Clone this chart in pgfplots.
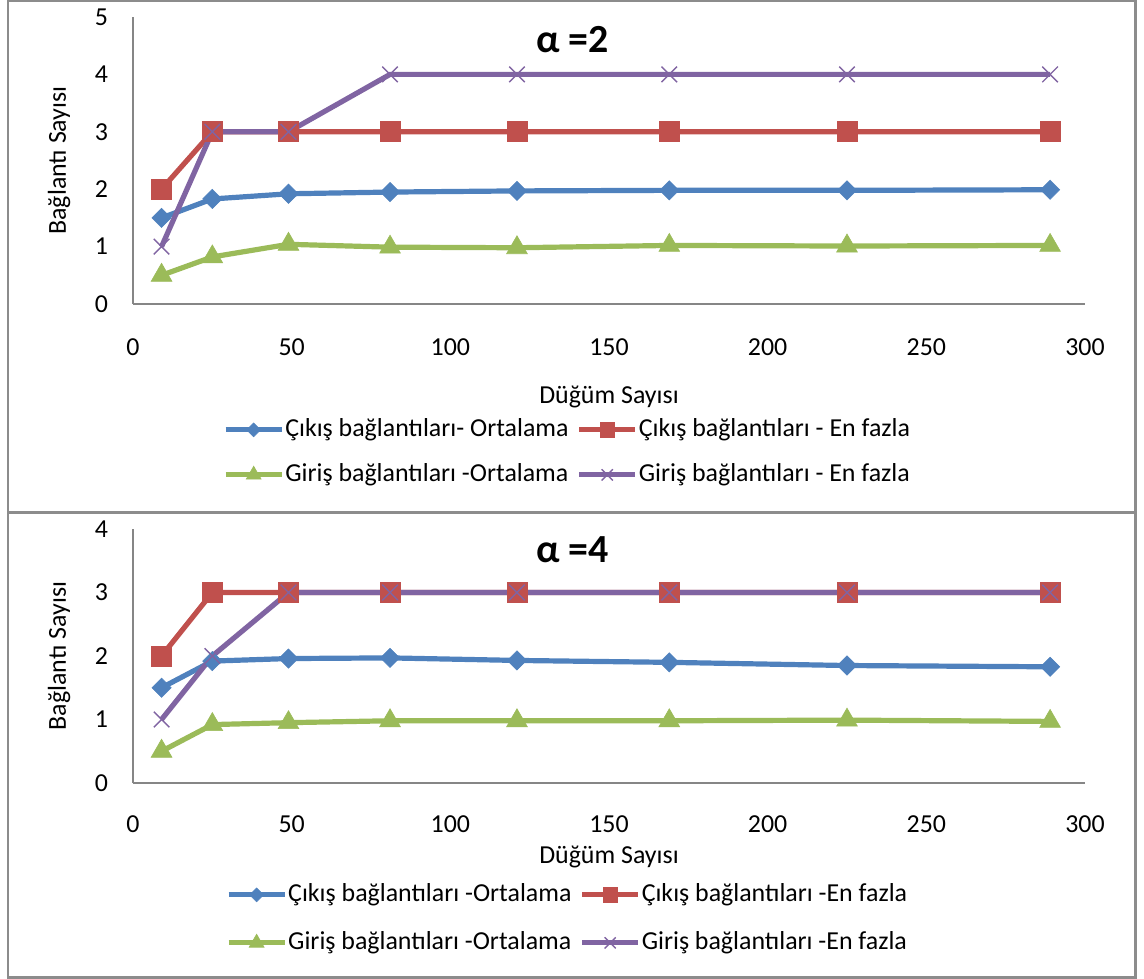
\documentclass[border=0pt]{standalone}
\usepackage{fontspec}
\setmainfont{Carlito}
\usepackage{pgfplots}
\pgfplotsset{compat=1.18}
\definecolor{cblue}{HTML}{4F81BD}
\definecolor{cred}{HTML}{C0504D}
\definecolor{cgreen}{HTML}{9BBB59}
\definecolor{cpurple}{HTML}{8064A2}
\definecolor{axisgray}{HTML}{868686}
\definecolor{framegray}{HTML}{8C8C8C}
\pgfplotsset{
  panel/.style={
    scale only axis, width=476bp,
    xmin=0, xmax=300, ymin=0,
    axis x line*=bottom, axis y line*=left,
    axis line style={color=axisgray, line width=0.9bp},
    major tick length=0pt,
    xtick={0,50,...,300},
    ytick distance=1,
    tick label style={font=\fontsize{13}{15}\selectfont},
    /pgf/number format/assume math mode=true,
    yticklabel style={xshift=-9bp},
    ylabel={Bağlantı Sayısı},
    ylabel style={font=\fontsize{13}{15}\selectfont, at={(axis description cs:-0.0777,0.5)}, anchor=center},
    xlabel={Düğüm Sayısı},
    xlabel style={font=\fontsize{13}{15}\selectfont, anchor=center},
    title style={font=\fontsize{20}{23}\selectfont\bfseries, anchor=center},
    legend columns=2,
    legend cell align=left,
    legend image code/.code={\draw[mark repeat=2,mark phase=2,every mark/.append style={scale=0.72}] plot coordinates {(0bp,0bp) (14bp,0bp) (28bp,0bp)};},
    legend style={draw=none, fill=none, anchor=center, font=\fontsize{13}{15}\selectfont,
      nodes={inner sep=0.5bp, text height=9.5bp, text depth=3bp},
      /tikz/every even column/.append style={column sep=3.5bp}},
  },
  sblue/.style={color=cblue, line width=2.6bp, mark=square*, mark size=3.4bp, mark options={rotate=45, line width=0.3bp, fill=cblue}},
  sred/.style={color=cred, line width=2.6bp, mark=square*, mark size=5bp, mark options={line width=0.3bp, fill=cred}},
  sgreen/.style={color=cgreen, line width=2.6bp, mark=triangle*, mark size=6bp, mark options={line width=0.3bp, fill=cgreen}},
  spurple/.style={color=cpurple, line width=2.6bp, mark=x, mark size=5.5bp, mark options={line width=0.7bp}},
}
\begin{document}
\begin{tikzpicture}
\useasboundingbox (0,0) rectangle (572bp,489.5bp);
% top panel
\begin{axis}[panel, at={(66.5bp,337.5bp)}, anchor=south west, height=143.5bp, ymax=5,
  xticklabel style={yshift=-14bp},
  xlabel style={at={(axis description cs:0.5,-0.324)}},
  title={α =2}, title style={at={(axis description cs:0.4615,0.878)}},
  legend style={at={(axis description cs:0.456,-0.517)}, row sep=9bp}]
\addplot[sblue] coordinates {(9,1.5) (25,1.83) (49,1.92) (81,1.95) (121,1.97) (169,1.98) (225,1.98) (289,1.99)};
\addlegendentry{Çıkış bağlantıları- Ortalama}
\addplot[sred] coordinates {(9,2) (25,3) (49,3) (81,3) (121,3) (169,3) (225,3) (289,3)};
\addlegendentry{Çıkış bağlantıları - En fazla}
\addplot[sgreen] coordinates {(9,0.5) (25,0.82) (49,1.04) (81,0.99) (121,0.98) (169,1.02) (225,1.01) (289,1.02)};
\addlegendentry{Giriş bağlantıları -Ortalama}
\addplot[spurple] coordinates {(9,1) (25,3) (49,3) (81,4) (121,4) (169,4) (225,4) (289,4)};
\addlegendentry{Giriş bağlantıları - En fazla}
\end{axis}
% bottom panel
\begin{axis}[panel, at={(66.5bp,98bp)}, anchor=south west, height=127bp, ymax=4,
  xticklabel style={yshift=-13bp},
  xlabel style={at={(axis description cs:0.5,-0.291)}},
  title={α =4}, title style={at={(axis description cs:0.4615,0.87)}},
  legend style={at={(axis description cs:0.456,-0.535)}, row sep=10.5bp}]
\addplot[sblue] coordinates {(9,1.5) (25,1.92) (49,1.96) (81,1.97) (121,1.93) (169,1.90) (225,1.85) (289,1.83)};
\addlegendentry{Çıkış bağlantıları -Ortalama}
\addplot[sred] coordinates {(9,2) (25,3) (49,3) (81,3) (121,3) (169,3) (225,3) (289,3)};
\addlegendentry{Çıkış bağlantıları -En fazla}
\addplot[sgreen] coordinates {(9,0.5) (25,0.92) (49,0.95) (81,0.98) (121,0.98) (169,0.98) (225,0.99) (289,0.97)};
\addlegendentry{Giriş bağlantıları -Ortalama}
\addplot[spurple] coordinates {(9,1) (25,2) (49,3) (81,3) (121,3) (169,3) (225,3) (289,3)};
\addlegendentry{Giriş bağlantıları -En fazla}
\end{axis}
% frames
\draw[framegray, line width=1.3bp] (4bp,489bp) rectangle (567.75bp,0.75bp);
\draw[framegray, line width=1.5bp] (4bp,233.25bp) -- (567.75bp,233.25bp);
\end{tikzpicture}
\end{document}
